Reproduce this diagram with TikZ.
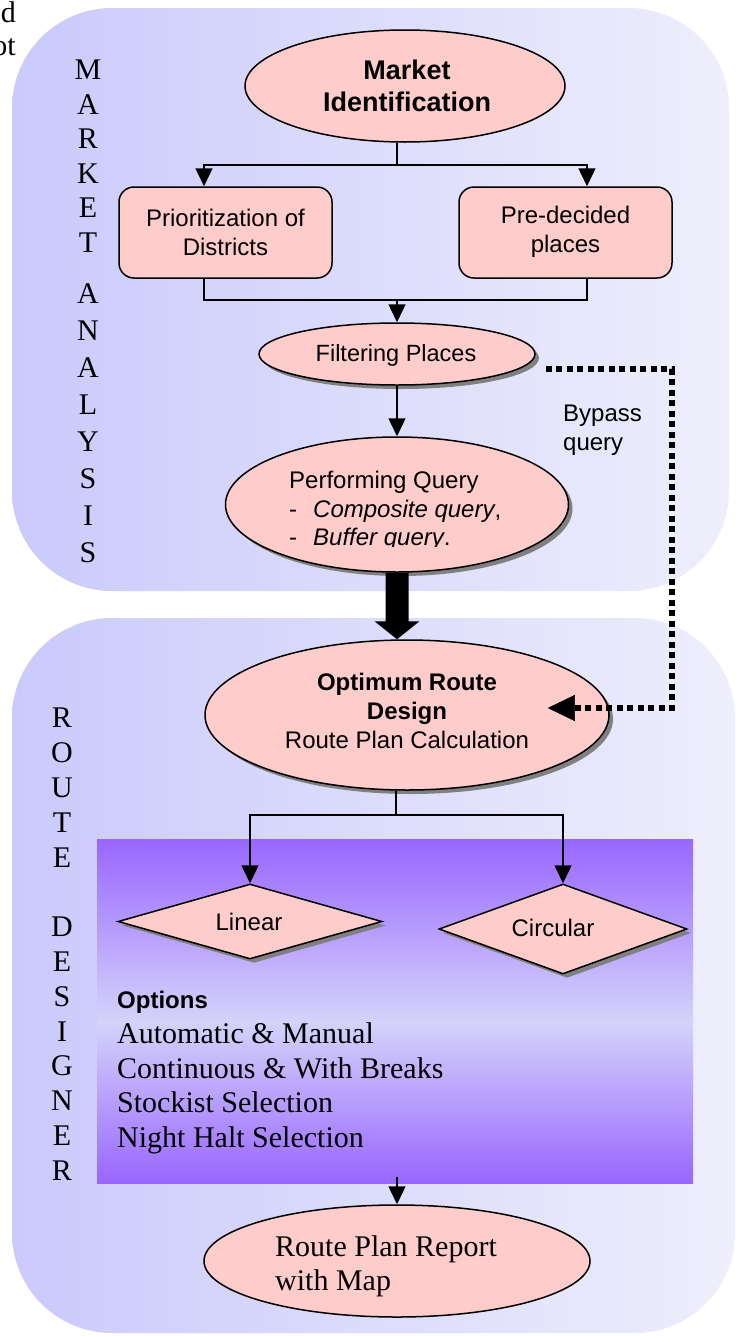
\documentclass[tikz,border=0pt]{standalone}
\usepackage{fontspec}
\setmainfont{Liberation Serif}
\setsansfont{Liberation Sans}
\usetikzlibrary{shapes.geometric,arrows.meta,calc,shadows}
\definecolor{boxpink}{RGB}{255,204,204}
\definecolor{shadowgray}{RGB}{128,128,128}
\definecolor{panelL}{RGB}{202,202,252}
\definecolor{panelR}{RGB}{238,238,252}
\definecolor{purp}{RGB}{153,102,255}
\definecolor{midlav}{RGB}{212,212,250}
\tikzset{
  pinkfill/.style={draw=black, line width=1.5pt, fill=boxpink},
  ell/.style={pinkfill, ellipse, inner sep=0pt},
  dia/.style={pinkfill, diamond, inner sep=0pt},
  shad/.style={drop shadow={shadow xshift=4pt, shadow yshift=-4pt, fill=shadowgray, opacity=1}},
  lbl/.style={font=\sffamily\fontsize{24}{29}\selectfont, align=center, inner sep=0pt},
  conn/.style={draw, line width=1.5pt},
  arr/.style={conn, -{Triangle[width=17pt,length=18pt]}},
  letter/.style={font=\rmfamily\fontsize{30}{34}\selectfont, inner sep=0pt},
  serifline/.style={inner sep=0pt, anchor=base west, font=\rmfamily\fontsize{30}{34}\selectfont},
  bypass/.style={draw, line width=5.5pt, line cap=butt, dash pattern=on 6pt off 4.5pt,
    -{Triangle[width=26pt,length=27pt,line width=0.5pt]}},
}
\begin{document}
\begin{tikzpicture}[x=1pt,y=-1pt]
\useasboundingbox (0,0) rectangle (736,1336);
% panels
\path[left color=panelL, right color=panelR, rounded corners=100pt] (12,8) rectangle (729,591);
\path[left color=panelL, right color=panelR, rounded corners=100pt] (12,618) rectangle (735,1333);
% purple box
\fill[top color=purp, bottom color=midlav] (97,839) rectangle (693,1022);
\fill[top color=midlav, bottom color=purp] (97,1021) rectangle (693,1183);
% cut text top-left
\node[letter, anchor=base east] (cut1) at (16,22) {d};
\node[letter, anchor=base east] (cut2) at (16,55) {ot};
% side letters
\foreach \l [count=\i] in {M,A,R,K,E,T}
  \node[letter] (ma\i) at (88,{70+34.5*(\i-1)}) {\l};
\foreach \l [count=\i] in {A,N,A,L,Y,S,I,S}
  \node[letter] (an\i) at (88,{294+37*(\i-1)}) {\l};
\foreach \l [count=\i] in {R,O,U,T,E}
  \node[letter] (ro\i) at (62,{718+34.8*(\i-1)}) {\l};
\foreach \l [count=\i] in {D,E,S,I,G,N,E,R}
  \node[letter] (de\i) at (62,{927+34.8*(\i-1)}) {\l};
% nodes
\node[ell, minimum width=320pt, minimum height=112pt] (mi) at (405,86) {};
\node[lbl, font=\sffamily\bfseries\fontsize{27}{32}\selectfont] (mit) at (407,86) {Market\\Identification};
\node[pinkfill, rounded corners=15pt, minimum width=213pt, minimum height=91pt, inner sep=0pt] (pri) at (225.5,232.5) {};
\node[lbl] (prit) at (225.5,232) {Prioritization of\\Districts};
\node[pinkfill, rounded corners=15pt, minimum width=213pt, minimum height=91pt, inner sep=0pt] (pre) at (565.5,232.5) {};
\node[lbl] (pret) at (565.5,232) {Pre-decided\\places};
\node[ell, shad, minimum width=276pt, minimum height=62pt] (fp) at (397,354) {};
\node[lbl, font=\sffamily\fontsize{23.5}{28}\selectfont] (fpt) at (396,355) {Filtering Places};
\node[ell, shad, minimum width=343pt, minimum height=135pt] (perf) at (397,504.5) {};
\begin{scope}
\clip (280,455) rectangle (560,546);
\node[lbl, anchor=base west] (pq1) at (289,488) {Performing Query};
\node[lbl, anchor=base west] (pq2) at (289,517) {\makebox[24pt][l]{-}\textit{Composite query},};
\node[lbl, anchor=base west] (pq3) at (289,545) {\makebox[24pt][l]{-}\textit{Buffer query}.};
\end{scope}
\node[lbl, align=left, anchor=west] (bpt) at (563,430) {Bypass\\query};
\node[ell, shad, minimum width=404pt, minimum height=150pt] (opt) at (407,715) {};
\node[lbl] (optt) at (407,711) {\textbf{Optimum Route}\\\textbf{Design}\\Route Plan Calculation};
\node[dia, shad, minimum width=264pt, minimum height=75pt] (lin) at (250,921.5) {};
\node[lbl] (lint) at (249,922) {Linear};
\node[dia, shad, minimum width=248pt, minimum height=90pt] (cir) at (563,929) {};
\node[lbl] (cirt) at (553,928) {Circular};
\node[inner sep=0pt, anchor=base west, font=\sffamily\bfseries\fontsize{24}{29}\selectfont] (opts) at (117,1008) {Options};
\node[serifline] (o1) at (117,1043) {Automatic \& Manual};
\node[serifline] (o2) at (117,1078) {Continuous \& With Breaks};
\node[serifline] (o3) at (117,1112) {Stockist Selection};
\node[serifline] (o4) at (117,1147) {Night Halt Selection};
\node[ell, minimum width=386pt, minimum height=112pt] (rp) at (397,1261) {};
\node[serifline] (rp1) at (275,1256) {Route Plan Report};
\node[serifline] (rp2) at (275,1290) {with Map};
% connectors
\coordinate (j1) at (397,165);
\draw[conn] ([xshift=-8pt]mi.south) -- (j1);
\draw[arr] (j1) -| ([xshift=-21.5pt]pri.north);
\draw[arr] (j1) -| ([xshift=21.5pt]pre.north);
\coordinate (j2) at (397,300);
\draw[conn] ([xshift=-21.5pt]pri.south) |- (j2);
\draw[conn] ([xshift=21.5pt]pre.south) |- (j2);
\draw[arr] (j2) -- (fp.north);
\draw[arr] (fp.south) -- (perf.north);
% big arrow
\fill ($(perf.south)+(-11.5,0)$) -- ($(opt.north -| perf.south)+(-11.5,-18)$)
  -- ($(opt.north -| perf.south)+(-22.5,-18)$) -- (opt.north -| perf.south)
  -- ($(opt.north -| perf.south)+(22.5,-18)$) -- ($(opt.north -| perf.south)+(11.5,-18)$)
  -- ($(perf.south)+(11.5,0)$) -- cycle;
% bypass
\coordinate (bp1) at ($(fp.east)+(10,15)$);
\coordinate (bpr) at (672,540);
\coordinate (bp2) at ($(opt.east)+(-62,-7)$);
\draw[bypass] (bp1) -| (bpr) |- (bp2);
% below optimum
\coordinate (j3) at (396,815);
\draw[conn] (opt.south -| j3) -- (j3);
\draw[arr] (j3) -| (lin.north);
\draw[arr] (j3) -| (cir.north);
\coordinate (j4) at (397,1177);
\draw[arr] (j4) -- (rp.north);
\end{tikzpicture}
\end{document}
